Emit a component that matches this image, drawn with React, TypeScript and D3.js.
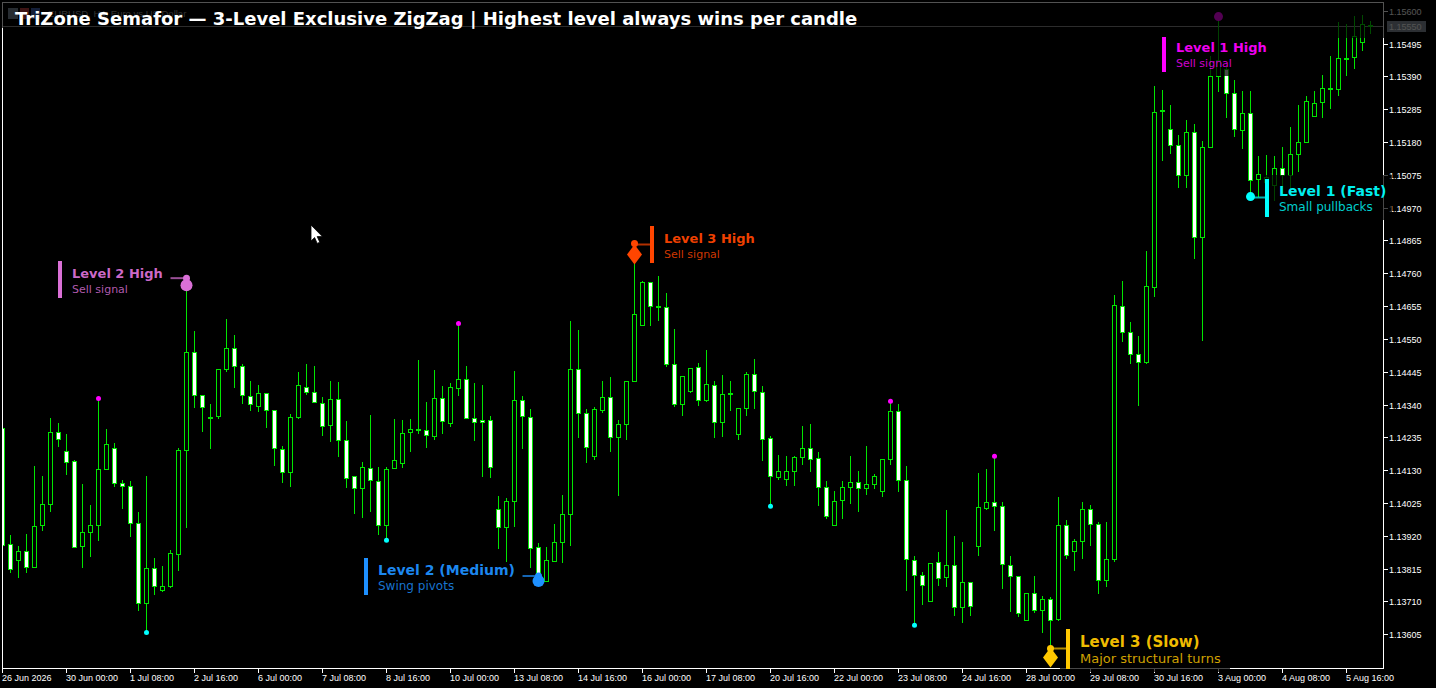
import { scaleLinear } from 'd3'

const WIDTH = 1436
const HEIGHT = 688
const PLOT_LEFT = 2
const PLOT_RIGHT = 1383
const PLOT_BOTTOM = 668

const TITLE = 'TriZone Semafor — 3-Level Exclusive ZigZag | Highest level always wins per candle'
const SYMBOL_LABEL = 'EURUSD, H4:  Euro vs US Dollar'
const LAST_PRICE = 1.1555

const PRICE_TICKS = [
  1.156, 1.15495, 1.1539, 1.15285, 1.1518, 1.15075, 1.1497, 1.14865, 1.1476, 1.14655, 1.1455, 1.14445, 1.1434,
  1.14235, 1.1413, 1.14025, 1.1392, 1.13815, 1.1371, 1.13605,
]

const TIME_LABELS = [
  '26 Jun 2026', '30 Jun 00:00', '1 Jul 08:00', '2 Jul 16:00', '6 Jul 00:00', '7 Jul 08:00', '8 Jul 16:00',
  '10 Jul 00:00', '13 Jul 08:00', '14 Jul 16:00', '16 Jul 00:00', '17 Jul 08:00', '20 Jul 16:00', '22 Jul 00:00',
  '23 Jul 08:00', '24 Jul 16:00', '28 Jul 00:00', '29 Jul 08:00', '30 Jul 16:00', '3 Aug 00:00', '4 Aug 08:00',
  '5 Aug 16:00',
]
const CANDLES_PER_LABEL = 8

const opens = [
  1.14265, 1.13894, 1.13842, 1.13872, 1.13819, 1.13954, 1.14021, 1.14253, 1.14192, 1.1416,
  1.13887, 1.13931, 1.13954, 1.14133, 1.14201, 1.14089, 1.1408, 1.13961, 1.13705, 1.13817,
  1.13747, 1.13759, 1.13861, 1.14194, 1.14509, 1.14371, 1.14299, 1.14303, 1.14454, 1.14521,
  1.14464, 1.14368, 1.14335, 1.14377, 1.14323, 1.14198, 1.14123, 1.14299, 1.14397, 1.14381,
  1.14345, 1.14274, 1.14358, 1.14227, 1.14112, 1.14072, 1.14137, 1.14096, 1.13954, 1.14136,
  1.14152, 1.14251, 1.14262, 1.14259, 1.14239, 1.14361, 1.1428, 1.14392, 1.14422, 1.14297,
  1.14291, 1.1429, 1.14006, 1.13949, 1.14032, 1.14355, 1.14301, 1.13885, 1.13776, 1.13839,
  1.13899, 1.1399, 1.14454, 1.14313, 1.14175, 1.14323, 1.14365, 1.14237, 1.14277, 1.14416,
  1.14594, 1.14733, 1.14656, 1.14653, 1.14469, 1.14342, 1.14383, 1.14461, 1.14354, 1.14403,
  1.14283, 1.14377, 1.14245, 1.14328, 1.14438, 1.14381, 1.14233, 1.14107, 1.14101, 1.14127,
  1.14171, 1.14201, 1.14169, 1.14077, 1.13954, 1.14034, 1.14075, 1.14093, 1.14072, 1.14085,
  1.14063, 1.14165, 1.1432, 1.14099, 1.13843, 1.13795, 1.13711, 1.13837, 1.13787, 1.13827,
  1.13691, 1.13773, 1.13887, 1.14009, 1.14029, 1.14016, 1.13827, 1.13792, 1.1365, 1.13737,
  1.13682, 1.13718, 1.13653, 1.13955, 1.13872, 1.13904, 1.14006, 1.13958, 1.13778, 1.13846,
  1.14655, 1.14573, 1.14501, 1.14475, 1.14717, 1.15283, 1.15222, 1.15171, 1.15075, 1.15213,
  1.14877, 1.15165, 1.15392, 1.15415, 1.15336, 1.15219, 1.15273, 1.15062, 1.15051, 1.15044,
  1.15097, 1.15076, 1.15141, 1.15179, 1.15263, 1.15307, 1.15353, 1.1535, 1.15449, 1.15453,
  1.15501, 1.15551,
]

const closes = [
  1.1389, 1.13813, 1.13872, 1.13819, 1.13952, 1.14022, 1.14253, 1.14229, 1.14155, 1.13883,
  1.13933, 1.13955, 1.14134, 1.14214, 1.14089, 1.14079, 1.13961, 1.13705, 1.13817, 1.1376,
  1.1376, 1.13865, 1.14195, 1.14509, 1.14371, 1.14333, 1.14297, 1.14454, 1.14521, 1.14464,
  1.1437, 1.14341, 1.14377, 1.14322, 1.142, 1.14123, 1.14301, 1.14403, 1.14379, 1.14347,
  1.14271, 1.14358, 1.14226, 1.14104, 1.14072, 1.14141, 1.14098, 1.13954, 1.14134, 1.14163,
  1.14249, 1.14262, 1.14258, 1.14242, 1.14361, 1.14287, 1.14397, 1.14422, 1.14296, 1.14285,
  1.14285, 1.14139, 1.13949, 1.14032, 1.14355, 1.14304, 1.1388, 1.13799, 1.13842, 1.13901,
  1.1399, 1.14454, 1.14313, 1.14203, 1.14326, 1.14365, 1.14237, 1.14278, 1.14416, 1.1463,
  1.14733, 1.14656, 1.14651, 1.14469, 1.14342, 1.14432, 1.14457, 1.14354, 1.14406, 1.14283,
  1.14374, 1.14373, 1.14329, 1.14438, 1.14383, 1.1423, 1.14111, 1.14128, 1.14128, 1.14173,
  1.14201, 1.14165, 1.14075, 1.13983, 1.14032, 1.14077, 1.14093, 1.14072, 1.14086, 1.14112,
  1.14166, 1.1432, 1.14098, 1.13845, 1.13794, 1.13762, 1.13833, 1.13785, 1.13827, 1.13693,
  1.13773, 1.13696, 1.14013, 1.14029, 1.14016, 1.1383, 1.13792, 1.13672, 1.13737, 1.13682,
  1.13718, 1.1365, 1.13955, 1.13859, 1.13904, 1.14006, 1.13958, 1.13778, 1.13846, 1.14659,
  1.14573, 1.14501, 1.14477, 1.1472, 1.15277, 1.15279, 1.15171, 1.15075, 1.15213, 1.14877,
  1.15165, 1.15392, 1.15444, 1.15337, 1.15222, 1.15273, 1.15059, 1.15078, 1.15067, 1.15097,
  1.15076, 1.15142, 1.15179, 1.15312, 1.15305, 1.15353, 1.15349, 1.15449, 1.15447, 1.15519,
  1.15558, 1.15555,
]

const highs = [
  1.14265, 1.13927, 1.13889, 1.13929, 1.14145, 1.14113, 1.14301, 1.14285, 1.14249, 1.14166,
  1.14089, 1.14023, 1.14361, 1.14265, 1.14221, 1.14103, 1.141, 1.14, 1.14113, 1.13853,
  1.13827, 1.13878, 1.14205, 1.14746, 1.14577, 1.14371, 1.14345, 1.14454, 1.14617, 1.14567,
  1.14473, 1.14417, 1.14407, 1.14381, 1.14326, 1.14209, 1.14313, 1.14446, 1.14473, 1.14468,
  1.14368, 1.14417, 1.14414, 1.14291, 1.14112, 1.1416, 1.14311, 1.14142, 1.14142, 1.14298,
  1.14294, 1.14298, 1.14486, 1.14352, 1.14455, 1.14401, 1.14413, 1.14601, 1.14467, 1.14413,
  1.14407, 1.14307, 1.14049, 1.14045, 1.14452, 1.14369, 1.14329, 1.13901, 1.13888, 1.13961,
  1.14054, 1.14612, 1.14583, 1.14329, 1.14336, 1.1442, 1.14432, 1.14294, 1.14416, 1.14857,
  1.14739, 1.14733, 1.14755, 1.14701, 1.14586, 1.14435, 1.14461, 1.14477, 1.14519, 1.1442,
  1.14439, 1.14417, 1.14329, 1.14446, 1.1449, 1.14401, 1.14241, 1.14183, 1.14177, 1.14177,
  1.14273, 1.14282, 1.1419, 1.141, 1.14065, 1.14097, 1.14177, 1.14132, 1.14212, 1.14122,
  1.1417, 1.14352, 1.14346, 1.14148, 1.13857, 1.13806, 1.13833, 1.13872, 1.14006, 1.13923,
  1.13904, 1.13773, 1.14125, 1.14138, 1.14176, 1.1403, 1.13859, 1.13792, 1.13741, 1.13795,
  1.13731, 1.13726, 1.14046, 1.13974, 1.13913, 1.1403, 1.14022, 1.13966, 1.13966, 1.14695,
  1.1474, 1.14606, 1.14561, 1.14836, 1.15364, 1.15351, 1.15303, 1.15207, 1.15255, 1.15242,
  1.15185, 1.1546, 1.15583, 1.15423, 1.15383, 1.15345, 1.15345, 1.1514, 1.15143, 1.1514,
  1.15166, 1.15231, 1.15303, 1.15332, 1.15348, 1.15399, 1.1546, 1.15566, 1.15561, 1.15585,
  1.15591, 1.1557,
]

const lows = [
  1.1389, 1.13803, 1.13787, 1.13803, 1.13819, 1.13938, 1.13999, 1.14207, 1.14117, 1.13883,
  1.13819, 1.13855, 1.13906, 1.14133, 1.14079, 1.14008, 1.13919, 1.13682, 1.13612, 1.13733,
  1.13743, 1.13755, 1.1381, 1.13947, 1.14331, 1.14255, 1.142, 1.14296, 1.14447, 1.14395,
  1.14344, 1.14324, 1.14319, 1.14267, 1.14145, 1.14091, 1.14079, 1.14296, 1.14373, 1.14347,
  1.14242, 1.14222, 1.14175, 1.14075, 1.13992, 1.13979, 1.13999, 1.13925, 1.13907, 1.14136,
  1.14139, 1.14191, 1.14248, 1.14203, 1.14229, 1.14248, 1.14271, 1.14372, 1.14296, 1.14226,
  1.14111, 1.14107, 1.13882, 1.13839, 1.13951, 1.142, 1.13819, 1.1378, 1.13776, 1.13839,
  1.13835, 1.1389, 1.14235, 1.14155, 1.14165, 1.14315, 1.14191, 1.14052, 1.14229, 1.14416,
  1.14594, 1.14594, 1.14612, 1.14462, 1.14335, 1.14305, 1.14379, 1.1434, 1.14351, 1.14235,
  1.14239, 1.14324, 1.14229, 1.14305, 1.1433, 1.14161, 1.14016, 1.14103, 1.14081, 1.14081,
  1.14151, 1.14126, 1.1402, 1.13978, 1.13954, 1.13978, 1.14026, 1.13998, 1.14055, 1.14074,
  1.14046, 1.14151, 1.14062, 1.13748, 1.13635, 1.13703, 1.13711, 1.13762, 1.13758, 1.13668,
  1.13643, 1.13666, 1.1386, 1.14005, 1.1394, 1.13754, 1.13678, 1.13663, 1.1365, 1.13675,
  1.13611, 1.13545, 1.13651, 1.13848, 1.13812, 1.13848, 1.13892, 1.13738, 1.13759, 1.13838,
  1.14543, 1.14472, 1.14338, 1.14472, 1.14687, 1.15124, 1.15144, 1.15035, 1.15035, 1.14808,
  1.14545, 1.15165, 1.15343, 1.15259, 1.15199, 1.15162, 1.15007, 1.15007, 1.15007, 1.14996,
  1.15039, 1.15033, 1.15086, 1.15179, 1.15263, 1.15259, 1.15289, 1.1533, 1.15394, 1.15418,
  1.15476, 1.15529,
]

// candle indexes where the indicator printed a point
const level1HighIdx = [12, 57, 111, 124]
const level1LowIdx = [18, 48, 96, 114]
const level1CalloutHighIdx = 152
const level1CalloutLowIdx = 156
const level2HighIdx = 23
const level2LowIdx = 67
const level3HighIdx = 79
const level3LowIdx = 131

const x = scaleLinear().domain([0, opens.length - 1]).range([2.5, 1370.5])
const y = scaleLinear().domain([1.156, 1.13605]).range([11.3, 634.7])

// snap to the pixel grid, the terminal draws without antialiasing
const py = (price: number) => Math.round(y(price) - 0.5) + 0.5

const GREEN = '#00e600'
const CYAN = '#00ffff'
const MAGENTA = '#ff00ff'
const ORCHID = '#da70d6'
const BLUE = '#1e90ff'
const ORANGE = '#ff4500'
const GOLD = '#ffc800'

const TERM_FONT = '"Liberation Sans", sans-serif'
const LABEL_FONT = '"DejaVu Sans", sans-serif'
const TERM_SIZE = 9

function Candle({ i }: { i: number }) {
  const cx = x(i)
  const bear = closes[i] <= opens[i]
  const top = py(Math.max(opens[i], closes[i]))
  const bottom = py(Math.min(opens[i], closes[i]))
  return (
    <g shapeRendering="crispEdges">
      <line x1={cx} x2={cx} y1={py(highs[i])} y2={py(lows[i])} stroke={GREEN} />
      <rect
        x={Math.max(cx - 2, PLOT_LEFT + 0.5)}
        y={top}
        width={cx - 2 < PLOT_LEFT ? 4 - (PLOT_LEFT + 0.5 - (cx - 2)) : 4}
        height={Math.max(bottom - top, 1)}
        fill={bear ? '#ffffff' : '#000000'}
        stroke={GREEN}
      />
    </g>
  )
}

function Dot({ i, side, color }: { i: number; side: 'high' | 'low'; color: string }) {
  const price = side === 'high' ? highs[i] : lows[i]
  return <circle cx={x(i)} cy={y(price)} r={2.5} fill={color} />
}

interface CalloutProps {
  color: string
  heading: string
  sub: string
  barX: number
  barTop: number
  barHeight: number
  headSize: number
  subSize: number
  headY: number
  subY: number
  link?: { x1: number; x2: number; y: number }
  panel?: { x: number; y: number; width: number; height: number }
}

function Callout({ color, heading, sub, barX, barTop, barHeight, headSize, subSize, headY, subY, link, panel }: CalloutProps) {
  return (
    <g>
      {panel && <rect {...panel} fill="#000" fillOpacity={0.72} />}
      <rect x={barX} y={barTop} width={4} height={barHeight} fill={color} shapeRendering="crispEdges" />
      {link && <line x1={link.x1} x2={link.x2} y1={link.y} y2={link.y} stroke={color} strokeOpacity={0.7} strokeWidth={2} />}
      <text x={barX + 14} y={headY} fontFamily={LABEL_FONT} fontSize={headSize} fontWeight="bold" fill={color} fillOpacity={0.95}>
        {heading}
      </text>
      <text x={barX + 14} y={subY} fontFamily={LABEL_FONT} fontSize={subSize} fill={color} fillOpacity={0.82}>
        {sub}
      </text>
    </g>
  )
}

function Diamond({ cx, cy, rx, ry, color }: { cx: number; cy: number; rx: number; ry: number; color: string }) {
  return <path d={`M${cx} ${cy - ry}L${cx + rx} ${cy}L${cx} ${cy + ry}L${cx - rx} ${cy}Z`} fill={color} />
}

export default function App() {
  const candles = opens.map((_, i) => i)
  const l2hx = x(level2HighIdx)
  const l2lx = x(level2LowIdx)
  const l3hx = x(level3HighIdx)
  const l3lx = x(level3LowIdx)
  const l1lx = x(level1CalloutLowIdx)

  return (
    <svg
      width={WIDTH}
      height={HEIGHT}
      viewBox={`0 0 ${WIDTH} ${HEIGHT}`}
      style={{ position: 'fixed', left: 0, top: 0, display: 'block', background: '#000' }}
    >
      <rect width={WIDTH} height={HEIGHT} fill="#000" />

      {/* header strip of the terminal window, sits under the title band */}
      <g shapeRendering="crispEdges">
        <rect x={8} y={8} width={10} height={11} fill="#7a8a9a" />
        <rect x={20} y={8} width={9} height={11} fill="#c04040" />
        <rect x={31} y={8} width={9} height={11} fill="#4060b0" />
      </g>
      <text x={48} y={17} fontFamily={TERM_FONT} fontSize={9.5} fill="#9a9a9a">{SYMBOL_LABEL}</text>

      {/* price line */}
      <line x1={PLOT_LEFT} x2={PLOT_RIGHT} y1={py(LAST_PRICE)} y2={py(LAST_PRICE)} stroke="#8a8a8a" shapeRendering="crispEdges" />

      {candles.map((i) => (
        <Candle key={i} i={i} />
      ))}

      {level1HighIdx.map((i) => <Dot key={i} i={i} side="high" color={MAGENTA} />)}
      {level1LowIdx.map((i) => <Dot key={i} i={i} side="low" color={CYAN} />)}
      <circle cx={x(level1CalloutHighIdx)} cy={y(highs[level1CalloutHighIdx])} r={4.5} fill={MAGENTA} />

      {/* frame and axes */}
      <g shapeRendering="crispEdges" stroke="#fff" fill="none">
        <path d={`M${PLOT_LEFT + 0.5} 2.5H${PLOT_RIGHT + 0.5}V${PLOT_BOTTOM + 0.5}H${PLOT_LEFT + 0.5}Z`} />
        {PRICE_TICKS.map((t) => (
          <line key={t} x1={PLOT_RIGHT} x2={PLOT_RIGHT + 5} y1={py(t)} y2={py(t)} />
        ))}
        {TIME_LABELS.map((_, k) => {
          const tx = Math.floor(x(k * CANDLES_PER_LABEL)) + 0.5
          return <line key={k} x1={tx} x2={tx} y1={PLOT_BOTTOM} y2={PLOT_BOTTOM + 5} />
        })}
      </g>
      {PRICE_TICKS.map((t) => (
        <text key={t} x={1389} y={py(t) + 3.5} fontFamily={TERM_FONT} fontSize={TERM_SIZE} fill="#fff">
          {t.toFixed(5)}
        </text>
      ))}
      {TIME_LABELS.map((label, k) => (
        <text key={label} x={Math.floor(x(k * CANDLES_PER_LABEL))} y={681} fontFamily={TERM_FONT} fontSize={TERM_SIZE} fill="#fff">
          {label}
        </text>
      ))}
      <rect x={1387} y={py(LAST_PRICE) - 5.5} width={39} height={11} fill="#8a949e" shapeRendering="crispEdges" />
      <text x={1389} y={py(LAST_PRICE) + 3.5} fontFamily={TERM_FONT} fontSize={TERM_SIZE} fill="#ffffff">
        {LAST_PRICE.toFixed(5)}
      </text>

      {/* title band dims what runs under it */}
      <rect x={0} y={0} width={WIDTH} height={28} fill="#000" fillOpacity={0.68} />
      <rect x={1276} y={28} width={WIDTH - 1276} height={10} fill="#000" fillOpacity={0.68} />

      <Callout
        color={ORCHID}
        heading="Level 2 High"
        sub="Sell signal"
        barX={58}
        barTop={261}
        barHeight={37}
        headSize={13}
        subSize={11}
        headY={278}
        subY={293}
        link={{ x1: l2hx - 16, x2: l2hx, y: y(highs[level2HighIdx]) }}
      />
      <circle cx={l2hx} cy={y(highs[level2HighIdx])} r={3.5} fill={ORCHID} />
      <circle cx={l2hx} cy={y(highs[level2HighIdx]) + 7} r={6} fill={ORCHID} />

      <Callout
        color={ORANGE}
        heading="Level 3 High"
        sub="Sell signal"
        barX={650}
        barTop={226}
        barHeight={37}
        headSize={13}
        subSize={11}
        headY={243}
        subY={258}
        link={{ x1: l3hx, x2: 650, y: 244.5 }}
      />
      <circle cx={l3hx} cy={y(highs[level3HighIdx])} r={3.5} fill={ORANGE} />
      <Diamond cx={l3hx} cy={y(highs[level3HighIdx]) + 11} rx={7.5} ry={10} color={ORANGE} />

      <Callout
        color={BLUE}
        heading="Level 2 (Medium)"
        sub="Swing pivots"
        barX={364}
        barTop={558}
        barHeight={37}
        headSize={14}
        subSize={12}
        headY={575}
        subY={590}
        link={{ x1: l2lx - 16, x2: l2lx, y: y(lows[level2LowIdx]) - 4 }}
      />
      <circle cx={l2lx} cy={y(lows[level2LowIdx]) - 4} r={3.5} fill={BLUE} />
      <circle cx={l2lx} cy={y(lows[level2LowIdx]) + 1} r={6} fill={BLUE} />

      <Callout
        color={GOLD}
        heading="Level 3 (Slow)"
        sub="Major structural turns"
        barX={1066}
        barTop={629}
        barHeight={40}
        headSize={15}
        subSize={13}
        headY={647}
        subY={663}
        link={{ x1: l3lx, x2: 1066, y: 648.5 }}
        panel={{ x: 1060, y: 628, width: 170, height: 44 }}
      />
      <circle cx={l3lx} cy={y(lows[level3LowIdx]) - 5} r={3.5} fill={GOLD} />
      <Diamond cx={l3lx} cy={y(lows[level3LowIdx]) + 4} rx={7.5} ry={10} color={GOLD} />

      <Callout
        color={CYAN}
        heading="Level 1 (Fast)"
        sub="Small pullbacks"
        barX={1265}
        barTop={179}
        barHeight={38}
        headSize={14}
        subSize={12}
        headY={196}
        subY={211}
        link={{ x1: l1lx, x2: 1265, y: 197.5 }}
        panel={{ x: 1262, y: 175, width: 130, height: 45 }}
      />
      <circle cx={l1lx} cy={y(lows[level1CalloutLowIdx])} r={4.5} fill={CYAN} />

      <Callout
        color={MAGENTA}
        heading="Level 1 High"
        sub="Sell signal"
        barX={1162}
        barTop={37}
        barHeight={35}
        headSize={13}
        subSize={11}
        headY={52}
        subY={67}
        panel={{ x: 1155, y: 28, width: 120, height: 48 }}
      />

      <text x={15} y={25} fontFamily={LABEL_FONT} fontSize={18} fontWeight="bold" fill="#fff">
        {TITLE}
      </text>

      {/* mouse pointer caught in the screenshot */}
      <path
        transform="translate(311 225)"
        d="M0 0V16L3.6 12.6L6.2 18.4L8.8 17.2L6.2 11.6H11.4Z"
        fill="#fff"
        stroke="#000"
        strokeWidth={0.8}
      />
    </svg>
  )
}
